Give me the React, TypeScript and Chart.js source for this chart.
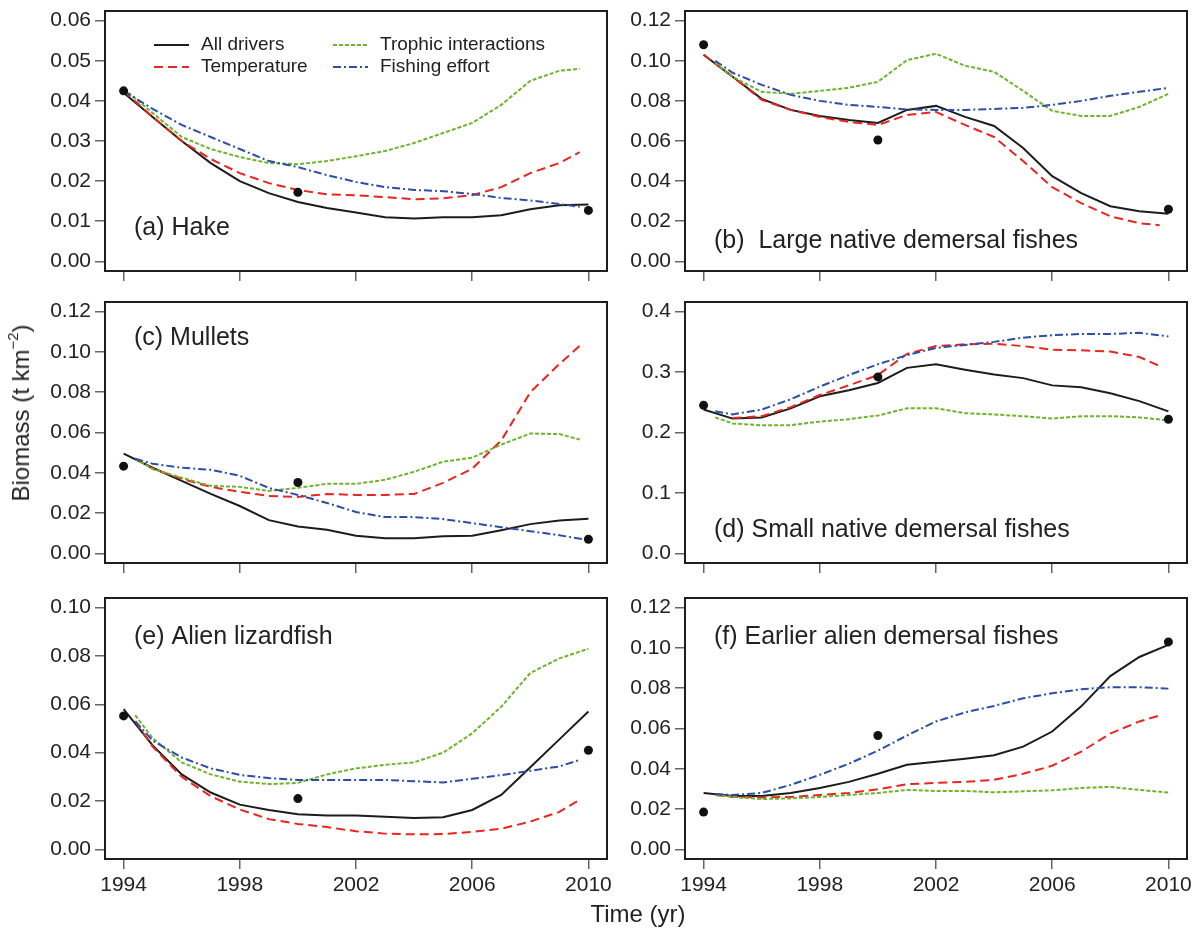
import React, { useEffect, useRef } from 'react';
import { Chart, registerables } from 'chart.js';

Chart.register(...registerables);

const FONT = '"Liberation Sans", Arial, Helvetica, sans-serif';
const TEXT = '#222222';

// ---- x values (years) ----
const YEARS = [1994, 1995, 1996, 1997, 1998, 1999, 2000, 2001, 2002, 2003, 2004, 2005, 2006, 2007, 2008, 2009, 2010];
const YEARS_LATE = [1994.4, 1995, 1996, 1997, 1998, 1999, 2000, 2001, 2002, 2003, 2004, 2005, 2006, 2007, 2008, 2009, 2010];
const YEARS_END = [1994, 1995, 1996, 1997, 1998, 1999, 2000, 2001, 2002, 2003, 2004, 2005, 2006, 2007, 2008, 2009, 2009.7];
const YEARS_LATE_END = [1994.4, 1995, 1996, 1997, 1998, 1999, 2000, 2001, 2002, 2003, 2004, 2005, 2006, 2007, 2008, 2009, 2009.7];
const OBS_YEARS = [1994, 2000, 2010];
const X_TICKS = [1994, 1998, 2002, 2006, 2010];

const SERIES_LABELS = ['All drivers', 'Temperature', 'Trophic interactions', 'Fishing effort'];

// ---- (a) Hake ----
const HAKE_ALL = [0.042, 0.036, 0.030, 0.0245, 0.020, 0.017, 0.0148, 0.0133, 0.0122, 0.0110, 0.0107, 0.0110, 0.0110, 0.0115, 0.0130, 0.0140, 0.0142];
const HAKE_TEMP = [0.0425, 0.036, 0.030, 0.0255, 0.022, 0.0195, 0.0178, 0.0167, 0.0165, 0.0160, 0.0155, 0.0157, 0.0165, 0.0185, 0.0220, 0.0245, 0.0272];
const HAKE_TROPHIC = [0.043, 0.037, 0.031, 0.028, 0.026, 0.0245, 0.0242, 0.025, 0.0262, 0.0275, 0.0295, 0.032, 0.0345, 0.039, 0.045, 0.0475, 0.048];
const HAKE_FISHING = [0.0425, 0.038, 0.034, 0.031, 0.028, 0.025, 0.0235, 0.0215, 0.0198, 0.0185, 0.0178, 0.0175, 0.0168, 0.0158, 0.0152, 0.0143, 0.0136];
const HAKE_OBS = [0.0425, 0.0172, 0.0127];

// ---- (b) Large native demersal fishes ----
const LARGE_ALL = [0.103, 0.092, 0.081, 0.0755, 0.0725, 0.0705, 0.069, 0.0755, 0.0775, 0.072, 0.0675, 0.0565, 0.0425, 0.034, 0.0275, 0.025, 0.0237];
const LARGE_TEMP = [0.103, 0.092, 0.0805, 0.0755, 0.072, 0.0695, 0.068, 0.073, 0.0745, 0.068, 0.062, 0.050, 0.037, 0.029, 0.0225, 0.019, 0.018];
const LARGE_TROPHIC = [0.099, 0.092, 0.0845, 0.0835, 0.085, 0.0865, 0.0895, 0.1003, 0.1035, 0.0975, 0.0945, 0.085, 0.075, 0.0725, 0.0725, 0.077, 0.0835];
const LARGE_FISHING = [0.100, 0.094, 0.088, 0.083, 0.080, 0.078, 0.077, 0.0757, 0.0755, 0.0755, 0.076, 0.0765, 0.078, 0.080, 0.0825, 0.0845, 0.0865];
const LARGE_OBS = [0.108, 0.0605, 0.026];

// ---- (c) Mullets ----
const MULLET_ALL = [0.0495, 0.0425, 0.036, 0.0295, 0.0235, 0.0165, 0.0133, 0.0117, 0.0087, 0.0075, 0.0075, 0.0085, 0.0087, 0.0115, 0.0145, 0.0163, 0.0172];
const MULLET_TEMP = [0.047, 0.042, 0.037, 0.033, 0.0305, 0.0285, 0.028, 0.0295, 0.029, 0.029, 0.0295, 0.035, 0.042, 0.056, 0.080, 0.094, 0.103];
const MULLET_TROPHIC = [0.047, 0.042, 0.0375, 0.0335, 0.033, 0.031, 0.0325, 0.0345, 0.0345, 0.0365, 0.0405, 0.0455, 0.0475, 0.054, 0.0595, 0.0592, 0.0565];
const MULLET_FISHING = [0.047, 0.0445, 0.0425, 0.0415, 0.0385, 0.0325, 0.029, 0.025, 0.0205, 0.018, 0.018, 0.017, 0.015, 0.013, 0.011, 0.009, 0.0065];
const MULLET_OBS = [0.0433, 0.0352, 0.007];

// ---- (d) Small native demersal fishes ----
const SMALL_ALL = [0.238, 0.223, 0.225, 0.240, 0.260, 0.270, 0.282, 0.307, 0.313, 0.304, 0.296, 0.290, 0.278, 0.275, 0.265, 0.252, 0.235];
const SMALL_TEMP = [null, 0.224, 0.227, 0.242, 0.262, 0.278, 0.295, 0.330, 0.343, 0.346, 0.347, 0.343, 0.337, 0.336, 0.334, 0.325, 0.310];
const SMALL_TROPHIC = [0.225, 0.215, 0.212, 0.212, 0.218, 0.222, 0.228, 0.240, 0.240, 0.232, 0.230, 0.227, 0.223, 0.227, 0.227, 0.225, 0.220];
const SMALL_FISHING = [0.235, 0.230, 0.238, 0.255, 0.276, 0.295, 0.313, 0.328, 0.340, 0.345, 0.350, 0.357, 0.361, 0.363, 0.363, 0.365, 0.359];
const SMALL_OBS = [0.245, 0.292, 0.222];

// ---- (e) Alien lizardfish ----
const LIZARD_ALL = [0.058, 0.043, 0.031, 0.0235, 0.0185, 0.0163, 0.0145, 0.014, 0.014, 0.0135, 0.013, 0.0133, 0.0163, 0.0225, 0.034, 0.0455, 0.057];
const LIZARD_TEMP = [0.053, 0.0425, 0.030, 0.022, 0.0165, 0.0125, 0.0105, 0.0092, 0.0075, 0.0065, 0.0062, 0.0063, 0.0072, 0.0085, 0.0115, 0.0155, 0.0205];
const LIZARD_TROPHIC = [0.0555, 0.046, 0.036, 0.031, 0.028, 0.027, 0.0275, 0.031, 0.0335, 0.035, 0.036, 0.040, 0.048, 0.059, 0.073, 0.079, 0.083];
const LIZARD_FISHING = [0.053, 0.045, 0.038, 0.0335, 0.0308, 0.0295, 0.0287, 0.0287, 0.0287, 0.0287, 0.0282, 0.0277, 0.0292, 0.0307, 0.0325, 0.0343, 0.037];
const LIZARD_OBS = [0.0552, 0.021, 0.041];

// ---- (f) Earlier alien demersal fishes ----
const EARLIER_ALL = [0.028, 0.0265, 0.0265, 0.028, 0.0305, 0.0335, 0.0375, 0.042, 0.0435, 0.045, 0.0467, 0.051, 0.0585, 0.071, 0.086, 0.0955, 0.1015];
const EARLIER_TEMP = [0.027, 0.026, 0.0258, 0.026, 0.027, 0.028, 0.0298, 0.0323, 0.033, 0.0335, 0.0345, 0.0375, 0.0415, 0.0485, 0.0575, 0.0635, 0.0665];
const EARLIER_TROPHIC = [0.027, 0.026, 0.025, 0.0253, 0.026, 0.027, 0.028, 0.0295, 0.029, 0.029, 0.0283, 0.0288, 0.0293, 0.0305, 0.031, 0.0295, 0.0282];
const EARLIER_FISHING = [0.0275, 0.027, 0.028, 0.032, 0.037, 0.0425, 0.049, 0.0565, 0.0635, 0.068, 0.0712, 0.075, 0.0775, 0.0795, 0.0805, 0.0805, 0.0798];
const EARLIER_OBS = [0.0185, 0.0565, 0.103];

// ---- y tick values ----
const TICKS_006 = [0, 0.01, 0.02, 0.03, 0.04, 0.05, 0.06];
const TICKS_012 = [0, 0.02, 0.04, 0.06, 0.08, 0.10, 0.12];
const TICKS_04 = [0, 0.1, 0.2, 0.3, 0.4];
const TICKS_010 = [0, 0.02, 0.04, 0.06, 0.08, 0.10];

const STYLES = [
  { color: '#1c1c1c', dash: [] as number[], width: 2 },
  { color: '#e8251f', dash: [9, 5], width: 2 },
  { color: '#6cb52b', dash: [4, 2], width: 2 },
  { color: '#2b4ea6', dash: [8, 3, 2, 3], width: 2 },
];

const COLS = [
  { left: 0, width: 612, axisW: 105, padR: 5 },
  { left: 612, width: 582, axisW: 73, padR: 7 },
];
const ROWS = [
  { top: 0, height: 292, padT: 11, axisH: 21, labels: false },
  { top: 292, height: 292, padT: 10, axisH: 21, labels: false },
  { top: 584, height: 346, padT: 14, axisH: 71, labels: true },
];

type Series = { x: number[]; y: (number | null)[] };
type PanelCfg = {
  title: string;
  col: number;
  row: number;
  yMax: number;
  yTicks: number[];
  dec: number;
  series: Series[];
  obs: number[];
  titleFrom: 'top' | 'bottom';
  titleDy: number;
  legend?: boolean;
};

const PANELS: PanelCfg[] = [
  {
    title: '(a) Hake', col: 0, row: 0, yMax: 0.06, yTicks: TICKS_006, dec: 2,
    series: [
      { x: YEARS, y: HAKE_ALL }, { x: YEARS_END, y: HAKE_TEMP },
      { x: YEARS_END, y: HAKE_TROPHIC }, { x: YEARS_END, y: HAKE_FISHING },
    ],
    obs: HAKE_OBS, titleFrom: 'bottom', titleDy: 43, legend: true,
  },
  {
    title: '(b)  Large native demersal fishes', col: 1, row: 0, yMax: 0.12, yTicks: TICKS_012, dec: 2,
    series: [
      { x: YEARS, y: LARGE_ALL }, { x: YEARS_END, y: LARGE_TEMP },
      { x: YEARS_LATE, y: LARGE_TROPHIC }, { x: YEARS_LATE, y: LARGE_FISHING },
    ],
    obs: LARGE_OBS, titleFrom: 'bottom', titleDy: 30,
  },
  {
    title: '(c) Mullets', col: 0, row: 1, yMax: 0.12, yTicks: TICKS_012, dec: 2,
    series: [
      { x: YEARS, y: MULLET_ALL }, { x: YEARS_LATE_END, y: MULLET_TEMP },
      { x: YEARS_LATE_END, y: MULLET_TROPHIC }, { x: YEARS_LATE, y: MULLET_FISHING },
    ],
    obs: MULLET_OBS, titleFrom: 'top', titleDy: 36,
  },
  {
    title: '(d) Small native demersal fishes', col: 1, row: 1, yMax: 0.4, yTicks: TICKS_04, dec: 1,
    series: [
      { x: YEARS, y: SMALL_ALL }, { x: YEARS_END, y: SMALL_TEMP },
      { x: YEARS_LATE, y: SMALL_TROPHIC }, { x: YEARS_LATE, y: SMALL_FISHING },
    ],
    obs: SMALL_OBS, titleFrom: 'bottom', titleDy: 33,
  },
  {
    title: '(e) Alien lizardfish', col: 0, row: 2, yMax: 0.10, yTicks: TICKS_010, dec: 2,
    series: [
      { x: YEARS, y: LIZARD_ALL }, { x: YEARS_LATE_END, y: LIZARD_TEMP },
      { x: YEARS_LATE, y: LIZARD_TROPHIC }, { x: YEARS_LATE_END, y: LIZARD_FISHING },
    ],
    obs: LIZARD_OBS, titleFrom: 'top', titleDy: 39,
  },
  {
    title: '(f) Earlier alien demersal fishes', col: 1, row: 2, yMax: 0.12, yTicks: TICKS_012, dec: 2,
    series: [
      { x: YEARS, y: EARLIER_ALL }, { x: YEARS_LATE_END, y: EARLIER_TEMP },
      { x: YEARS_LATE, y: EARLIER_TROPHIC }, { x: YEARS_LATE, y: EARLIER_FISHING },
    ],
    obs: EARLIER_OBS, titleFrom: 'top', titleDy: 39,
  },
];

const decorPlugin = {
  id: 'decor',
  afterDraw(chart: any) {
    const p: PanelCfg = chart.options.plugins.decor.panel;
    const { ctx, chartArea: a } = chart;
    ctx.save();
    // box
    ctx.strokeStyle = '#1e1e1e';
    ctx.lineWidth = 2;
    ctx.setLineDash([]);
    ctx.strokeRect(a.left, a.top, a.right - a.left, a.bottom - a.top);
    // title
    ctx.fillStyle = TEXT;
    ctx.font = `25px ${FONT}`;
    ctx.textAlign = 'left';
    ctx.textBaseline = 'middle';
    const ty = p.titleFrom === 'top' ? a.top + p.titleDy : a.bottom - p.titleDy;
    ctx.fillText(p.title, a.left + 29, ty);
    // legend
    if (p.legend) {
      ctx.font = `19px ${FONT}`;
      [0, 1, 2, 3].forEach((i) => {
        const colX = i < 2 ? a.left + 49 : a.left + 228;
        const y = a.top + (i % 2 === 0 ? 34 : 56);
        const st = STYLES[i];
        ctx.strokeStyle = st.color;
        ctx.lineWidth = st.width;
        ctx.setLineDash(st.dash);
        ctx.beginPath();
        ctx.moveTo(colX, y);
        ctx.lineTo(colX + 35, y);
        ctx.stroke();
        ctx.setLineDash([]);
        ctx.fillStyle = TEXT;
        ctx.fillText(SERIES_LABELS[i], colX + 47, y);
      });
    }
    ctx.restore();
  },
};

function makeConfig(p: PanelCfg) {
  const col = COLS[p.col];
  const row = ROWS[p.row];
  const datasets: any[] = p.series.map((s, i) => ({
    label: SERIES_LABELS[i],
    data: s.x.map((xv, j) => ({ x: xv, y: s.y[j] })).filter((pt) => pt.y !== null),
    borderColor: STYLES[i].color,
    borderDash: STYLES[i].dash,
    borderWidth: STYLES[i].width,
    pointRadius: 0,
    tension: 0,
    fill: false,
    order: 4 - i,
  }));
  datasets.push({
    label: 'Observed',
    data: OBS_YEARS.map((xv, j) => ({ x: xv, y: p.obs[j] })),
    showLine: false,
    pointRadius: 4.5,
    pointBackgroundColor: '#111',
    pointBorderColor: '#111',
    pointBorderWidth: 0,
    order: 0,
  });
  const tickGrid = {
    drawOnChartArea: false,
    drawTicks: true,
    tickLength: 10,
    color: '#666',
    lineWidth: 1.5,
  };
  return {
    type: 'line',
    data: { datasets },
    plugins: [decorPlugin],
    options: {
      animation: false,
      responsive: false,
      devicePixelRatio: 1,
      events: [],
      layout: { padding: { top: row.padT, right: col.padR, left: 0, bottom: 0 } },
      plugins: {
        legend: { display: false },
        tooltip: { enabled: false },
        decor: { panel: p },
      },
      scales: {
        x: {
          type: 'linear',
          min: 1993.36,
          max: 2010.64,
          border: { display: false },
          grid: tickGrid,
          afterBuildTicks: (s: any) => {
            s.ticks = X_TICKS.map((v) => ({ value: v }));
          },
          afterFit: (s: any) => {
            s.height = row.axisH;
            s.paddingLeft = 0;
            s.paddingRight = 0;
          },
          ticks: {
            autoSkip: false,
            maxRotation: 0,
            padding: 4,
            color: TEXT,
            font: { family: FONT, size: 21 },
            callback: (v: number) => (row.labels ? String(v) : ''),
          },
        },
        y: {
          type: 'linear',
          min: -0.04 * p.yMax,
          max: 1.04 * p.yMax,
          border: { display: false },
          grid: tickGrid,
          afterBuildTicks: (s: any) => {
            s.ticks = p.yTicks.map((v) => ({ value: v }));
          },
          afterFit: (s: any) => {
            s.width = col.axisW;
            s.paddingTop = 0;
            s.paddingBottom = 0;
          },
          ticks: {
            autoSkip: false,
            padding: 4,
            color: TEXT,
            font: { family: FONT, size: 21 },
            callback: (v: number) => Number(v).toFixed(p.dec),
          },
        },
      },
    },
  };
}

function Panel({ p }: { p: PanelCfg }) {
  const ref = useRef<HTMLCanvasElement>(null);
  const col = COLS[p.col];
  const row = ROWS[p.row];
  useEffect(() => {
    if (!ref.current) return;
    const chart = new Chart(ref.current, makeConfig(p) as any);
    return () => chart.destroy();
  }, [p]);
  return (
    <canvas
      ref={ref}
      width={col.width}
      height={row.height}
      style={{ position: 'absolute', left: col.left, top: row.top, width: col.width, height: row.height }}
    />
  );
}

export default function App() {
  return (
    <div
      style={{
        position: 'fixed',
        left: 0,
        top: 0,
        width: 1194,
        height: 930,
        background: '#ffffff',
        fontFamily: FONT,
        color: TEXT,
        overflow: 'hidden',
      }}
    >
      {PANELS.map((p) => (
        <Panel key={p.title} p={p} />
      ))}
      <div
        style={{
          position: 'absolute',
          left: 21,
          top: 413,
          transform: 'translate(-50%, -50%) rotate(-90deg)',
          whiteSpace: 'nowrap',
          fontSize: 24,
          lineHeight: '28px',
        }}
      >
        Biomass (t km<sup style={{ fontSize: '0.62em', lineHeight: 0, verticalAlign: '0.75em' }}>−2</sup>)
      </div>
      <div
        style={{
          position: 'absolute',
          left: 638,
          top: 914,
          transform: 'translate(-50%, -50%)',
          whiteSpace: 'nowrap',
          fontSize: 24,
          lineHeight: '28px',
        }}
      >
        Time (yr)
      </div>
    </div>
  );
}
